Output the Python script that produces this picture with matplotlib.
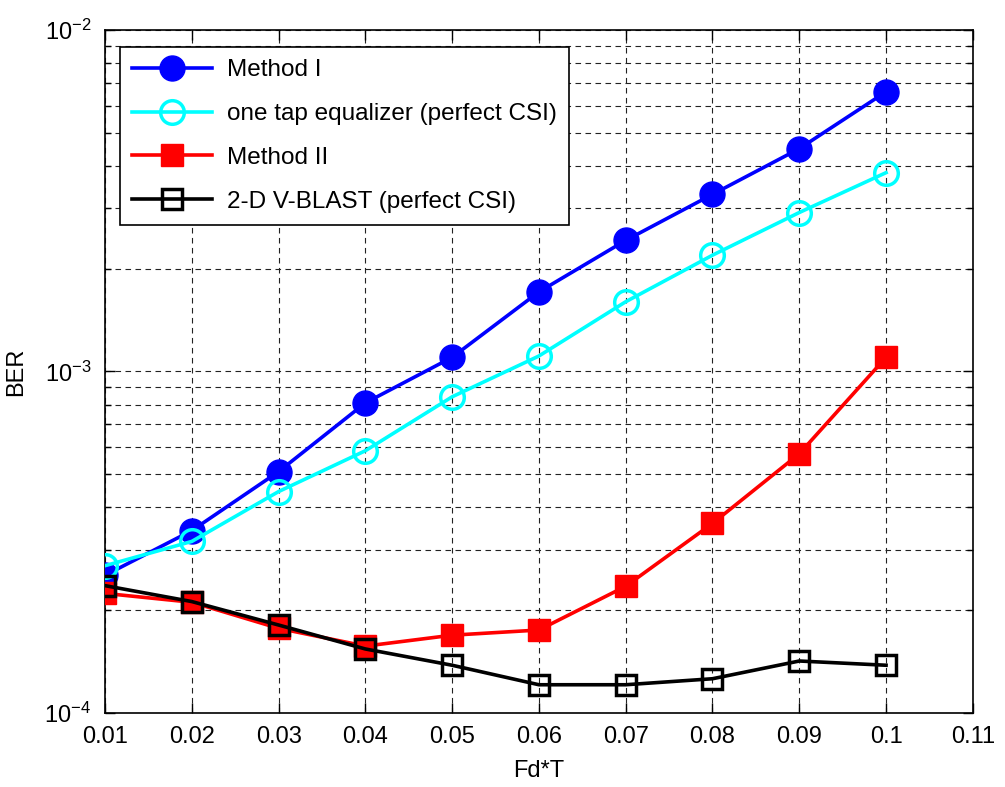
import matplotlib
matplotlib.use("Agg")
import matplotlib.pyplot as plt
from matplotlib.ticker import LogLocator, FixedLocator, NullFormatter

plt.rcParams['font.family'] = ['Liberation Sans', 'DejaVu Sans']
plt.rcParams['mathtext.fontset'] = 'custom'
plt.rcParams['mathtext.rm'] = 'Liberation Sans'
plt.rcParams['mathtext.it'] = 'Liberation Sans'

fdt = [0.01, 0.02, 0.03, 0.04, 0.05, 0.06, 0.07, 0.08, 0.09, 0.10]
method1 = [2.53e-4, 3.42e-4, 5.09e-4, 8.09e-4, 1.10e-3, 1.71e-3, 2.42e-3, 3.30e-3, 4.49e-3, 6.59e-3]
onetap = [2.70e-4, 3.18e-4, 4.45e-4, 5.86e-4, 8.43e-4, 1.11e-3, 1.60e-3, 2.19e-3, 2.92e-3, 3.82e-3]
method2 = [2.24e-4, 2.11e-4, 1.77e-4, 1.57e-4, 1.69e-4, 1.75e-4, 2.35e-4, 3.59e-4, 5.74e-4, 1.10e-3]
vblast = [2.36e-4, 2.12e-4, 1.81e-4, 1.54e-4, 1.38e-4, 1.21e-4, 1.21e-4, 1.26e-4, 1.42e-4, 1.38e-4]
labels = ["Method I", "one tap equalizer (perfect CSI)", "Method II", "2-D V-BLAST (perfect CSI)"]
xticks = [0.01, 0.02, 0.03, 0.04, 0.05, 0.06, 0.07, 0.08, 0.09, 0.10, 0.11]
xticklabels = ["0.01", "0.02", "0.03", "0.04", "0.05", "0.06", "0.07", "0.08", "0.09", "0.1", "0.11"]

fig = plt.figure(figsize=(10.05, 7.87), dpi=100)
ax = fig.add_axes([0.1045, 0.094, 0.8635, 0.868])

ax.plot(fdt, method1, '-o', color='#0000ff', lw=2.6, ms=18, mfc='#0000ff', mec='#0000ff', label=labels[0], zorder=3)
ax.plot(fdt, onetap, '-o', color='#00ffff', lw=2.6, ms=17, mfc='none', mec='#00ffff', mew=2.5, label=labels[1], zorder=3)
ax.plot(fdt, method2, '-s', color='#ff0000', lw=2.6, ms=16, mfc='#ff0000', mec='#ff0000', label=labels[2], zorder=3)
ax.plot(fdt, vblast, '-s', color='black', lw=2.6, ms=14, mfc='none', mec='black', mew=2.5, label=labels[3], zorder=4)

ax.set_yscale('log')
ax.set_xlim(0.01, 0.11)
ax.set_ylim(1e-4, 1e-2)
ax.xaxis.set_major_locator(FixedLocator(xticks))
ax.set_xticklabels(xticklabels)
ax.yaxis.set_major_locator(FixedLocator([1e-4, 1e-3, 1e-2]))
ax.set_yticklabels([r'$10^{-4}$', r'$10^{-3}$', r'$10^{-2}$'])
ax.yaxis.set_minor_locator(LogLocator(base=10, subs=range(2, 10)))
ax.yaxis.set_minor_formatter(NullFormatter())

ax.tick_params(which='both', direction='in', top=True, right=True, labelsize=17)
ax.tick_params(which='major', length=7, width=1)
ax.tick_params(which='minor', length=4, width=1)
ax.tick_params(axis='x', which='major', pad=9)
ax.tick_params(axis='y', which='major', pad=10)
ax.grid(True, which='both', axis='y', color='#222222', lw=0.8, linestyle=(0, (5, 4)))
ax.grid(True, which='major', axis='x', color='#222222', lw=0.8, linestyle=(0, (5, 4)))
for s in ax.spines.values():
    s.set_linewidth(1.2)

ax.set_xlabel('Fd*T', fontsize=17, labelpad=9)
ax.set_ylabel('BER', fontsize=17, labelpad=12)

leg = ax.legend(loc='upper left', fontsize=17.5, handlelength=3.3, fancybox=False,
                edgecolor='black', framealpha=1, borderaxespad=0.0, labelspacing=0.9,
                borderpad=0.5, handletextpad=0.6,
                bbox_to_anchor=(0.017, 0.975))
leg.get_frame().set_linewidth(1.2)

fig.savefig('out.png', dpi=100)
